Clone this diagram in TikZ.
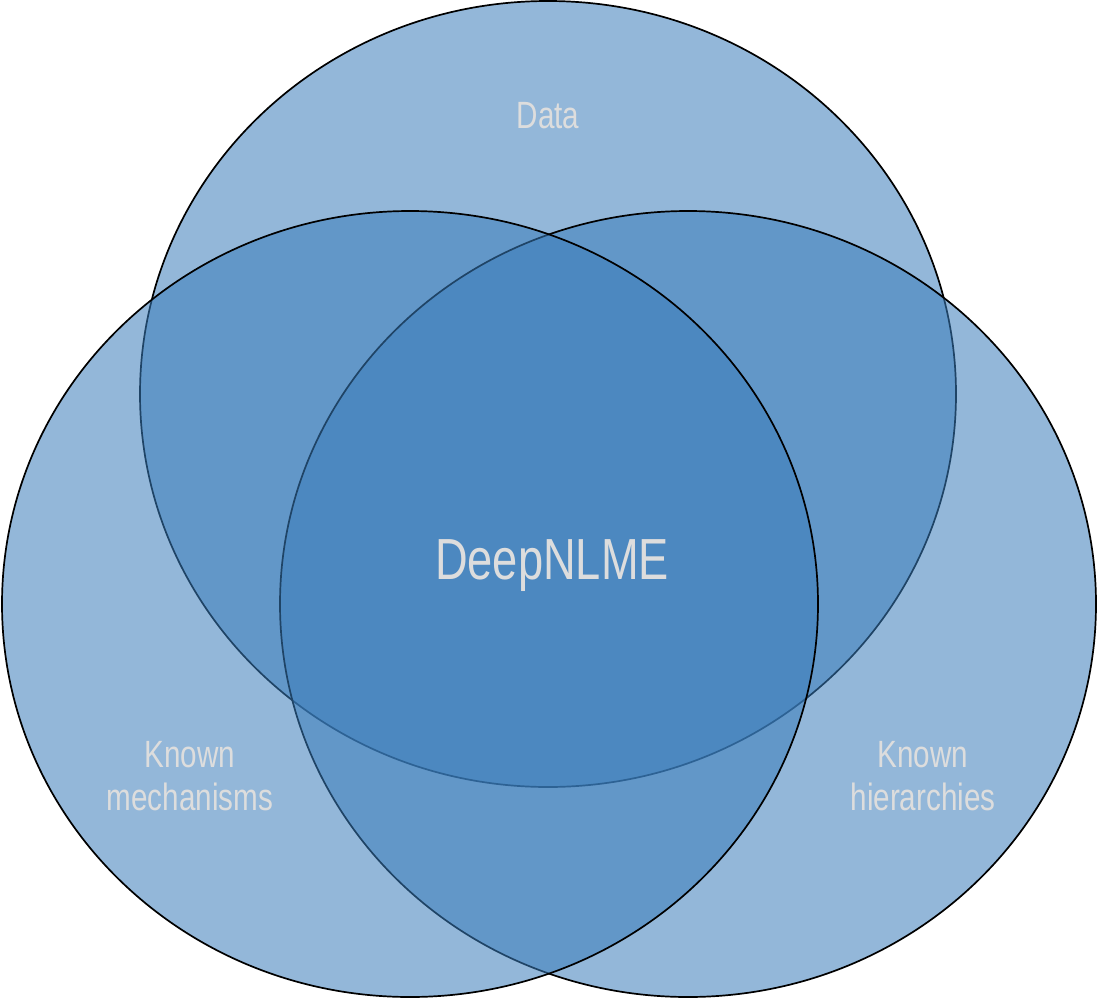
\documentclass[tikz,border=0pt]{standalone}
\usepackage{fontspec}
\setmainfont{Liberation Sans}[FakeStretch=0.78]
\definecolor{vennblue}{RGB}{58, 124, 186}
\definecolor{venntext}{RGB}{221, 221, 221}
\usetikzlibrary{positioning}

\begin{document}
\begin{tikzpicture}[x=1pt, y=-1pt,
    vennset/.style={draw=black, line width=1.7pt, fill=vennblue, fill opacity=0.55},
    vennlabel/.style={text=venntext, align=center, inner sep=0pt, font=\fontsize{38}{43}\selectfont}]
  \useasboundingbox (0,0) rectangle (1098,999);
  % sets: top, right, then left on top
  \draw[vennset] (548,394) ellipse [x radius=408, y radius=393];
  \draw[vennset] (688,604) ellipse [x radius=408, y radius=393];
  \draw[vennset] (410,604) ellipse [x radius=408, y radius=393];
  % labels
  \node[vennlabel] (data) at (548,116) {Data};
  \node[vennlabel, font=\fontsize{58}{64}\selectfont] (deepnlme) at (552,566) {DeepNLME};
  \node[vennlabel] (mechanisms) at (190,776) {Known\\mechanisms};
  \node[vennlabel] (hierarchies) at (923,776) {Known\\hierarchies};
\end{tikzpicture}
\end{document}
